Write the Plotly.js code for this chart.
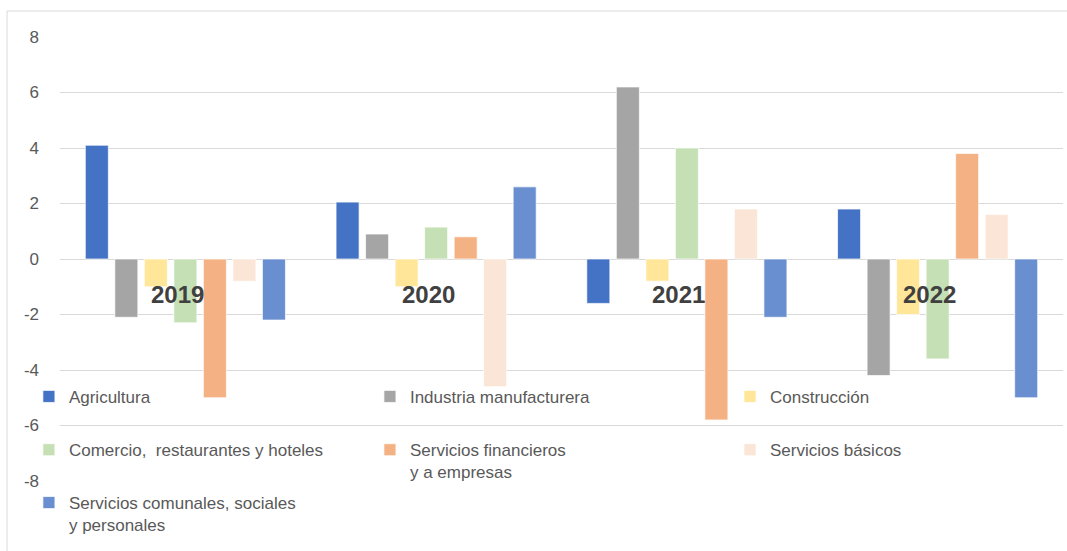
<!DOCTYPE html>
<html>
<head>
<meta charset="utf-8">
<script src="https://cdn.plot.ly/plotly-3.0.1.min.js"></script>
<style>html,body{margin:0;padding:0;background:#fff;}#chart{width:1067px;height:551px;}</style>
</head>
<body>
<div id="chart"></div>
<script>
const years = ["2019", "2020", "2021", "2022"];
const seriesNames = [
  "Agricultura",
  "Industria manufacturera",
  "Construcción",
  "Comercio,  restaurantes y hoteles",
  "Servicios financieros<br>y a empresas",
  "Servicios básicos",
  "Servicios comunales, sociales<br>y personales"
];
const agricultura = [4.1, 2.05, -1.6, 1.8];
const industria = [-2.1, 0.9, 6.2, -4.2];
const construccion = [-1.0, -1.0, -0.8, -2.0];
const comercio = [-2.3, 1.15, 4.0, -3.6];
const financieros = [-5.0, 0.8, -5.8, 3.8];
const basicos = [-0.8, -4.6, 1.8, 1.6];
const comunales = [-2.2, 2.6, -2.1, -5.0];
const seriesValues = [agricultura, industria, construccion, comercio, financieros, basicos, comunales];
const colors = ["#4472C4", "#A5A5A5", "#FFE699", "#C5E0B4", "#F4B183", "#FBE5D6", "#6A8FD0"];
const yTicks = [-8, -6, -4, -2, 0, 2, 4, 6, 8];
const yTickText = ["-8", "-6", "-4", "-2", "0", "2", "4", "6", "8"];

// legend placement (paper coords): three columns, three rows
const legendPos = [
  {x: -0.031, y: 0.230},
  {x: 0.309, y: 0.230},
  {x: 0.668, y: 0.230},
  {x: -0.031, y: 0.110},
  {x: 0.309, y: 0.110},
  {x: 0.668, y: 0.110},
  {x: -0.031, y: -0.009}
];

const traces = seriesNames.map((name, i) => ({
  type: "bar",
  name: name,
  x: years,
  y: seriesValues[i],
  marker: {color: colors[i], line: {color: "rgba(255,255,255,0.7)", width: 1}},
  legend: i === 0 ? "legend" : "legend" + (i + 1)
}));

const layout = {
  width: 1067,
  height: 551,
  margin: {l: 60, r: 4, t: 37, b: 70},
  paper_bgcolor: "#ffffff",
  plot_bgcolor: "#ffffff",
  barmode: "group",
  bargap: 0.176,
  bargroupgap: 0.22,
  showlegend: true,
  font: {family: "Liberation Sans, Arial, sans-serif", color: "#595959"},
  xaxis: {
    type: "category",
    categoryarray: years,
    autorange: false,
    range: [-0.5, years.length - 0.5],
    showticklabels: false,
    showgrid: false,
    zeroline: false,
    showline: false
  },
  yaxis: {
    range: [-8, 8],
    tickvals: yTicks,
    ticktext: yTickText,
    gridcolor: "#D9D9D9",
    gridwidth: 1,
    zeroline: false,
    showline: false,
    tickfont: {size: 17, color: "#595959"},
    ticklabelstandoff: 20
  },
  annotations: years.map((y, i) => ({
    x: i, y: 0, xref: "x", yref: "y",
    text: "<b>" + y + "</b>", showarrow: false,
    xanchor: "center", yanchor: "middle",
    xshift: -8, yshift: -35,
    font: {size: 24, color: "#404040", family: "Liberation Sans, Arial, sans-serif"}
  })),
  shapes: [{
    type: "rect", xref: "paper", yref: "paper",
    x0: -0.0528, x1: 1.05, y0: -0.3, y1: 1.0586,
    line: {color: "#D9D9D9", width: 1}
  }]
};
legendPos.forEach((p, i) => {
  const key = i === 0 ? "legend" : "legend" + (i + 1);
  layout[key] = {
    x: p.x, y: p.y, xanchor: "left", yanchor: "top", valign: "top",
    bgcolor: "rgba(0,0,0,0)", borderwidth: 0,
    font: {size: 17, color: "#595959", family: "Liberation Sans, Arial, sans-serif"}
  };
});

Plotly.newPlot("chart", traces, layout, {displayModeBar: false});
</script>
</body>
</html>
